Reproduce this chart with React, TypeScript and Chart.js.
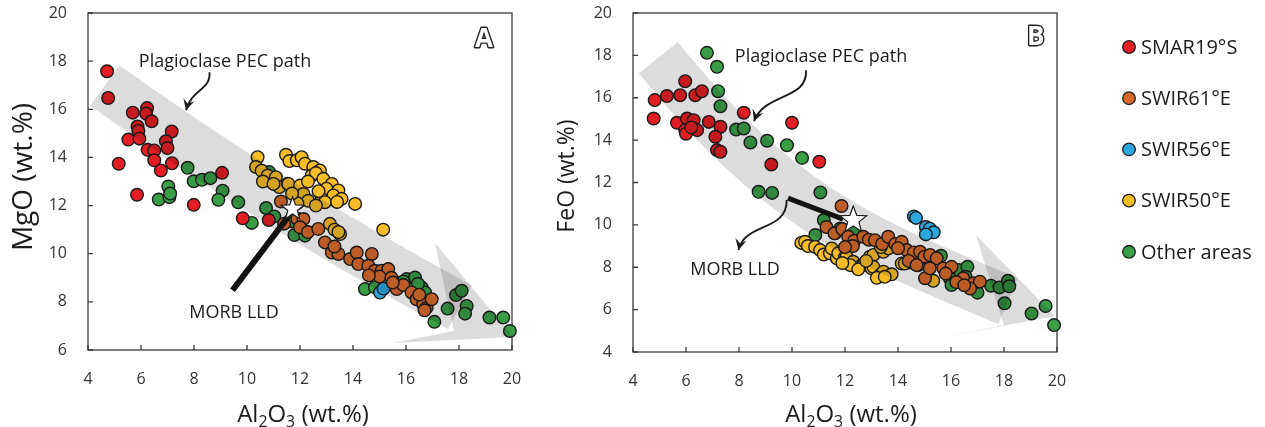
import React, { useEffect, useRef } from "react";
import { Chart, registerables } from "chart.js";

Chart.register(...registerables);

type Pt = [number, number];

const FONT = '"Open Sans", "DejaVu Sans", sans-serif';

// ---------------- data ----------------
const SERIES_NAMES = ["SMAR19°S", "SWIR61°E", "SWIR56°E", "SWIR50°E", "Other areas"];
const SERIES_COLORS = ["#E31E25", "#DA6A2C", "#2DA7DF", "#F6BD27", "#3A9E47"];

const X_MIN = 4;
const X_MAX = 20;
const TICK_STEP = 2;
const A_Y_MIN = 6;
const B_Y_MIN = 4;
const Y_MAX = 20;

// Panel A : MgO vs Al2O3
const A_SMAR19S: Pt[] = [
  [4.72, 17.58], [4.76, 16.47], [5.69, 15.86], [6.23, 16.05], [6.19, 15.82], [6.4, 15.5],
  [5.87, 15.29], [5.9, 15.1], [5.52, 14.74], [5.94, 14.78], [7.16, 15.08], [6.94, 14.67],
  [7.0, 14.39], [6.25, 14.32], [6.5, 14.29], [6.5, 13.88], [6.75, 13.46], [7.17, 13.76],
  [5.16, 13.74], [9.06, 13.36], [5.85, 12.45], [7.99, 12.03], [9.84, 11.47], [10.82, 11.4],
];
const A_SWIR61E: Pt[] = [
  [11.28, 12.17], [11.4, 11.25], [11.9, 11.45], [12.13, 11.44], [12.0, 11.1], [12.3, 10.9],
  [12.69, 11.03], [12.94, 10.47], [13.2, 10.05], [13.45, 9.99], [13.3, 10.3], [13.89, 9.78],
  [14.14, 10.05], [14.2, 9.57], [14.71, 9.99], [14.58, 9.5], [14.83, 9.29], [15.08, 9.29],
  [15.33, 9.36], [15.0, 9.05], [15.45, 9.0], [15.65, 8.53], [15.9, 8.7], [16.21, 8.39],
  [16.4, 8.11], [16.65, 7.9], [16.78, 7.76], [16.97, 8.11], [16.5, 8.3], [16.7, 7.65],
  [15.5, 8.8], [14.6, 9.1],
];
const A_SWIR56E: Pt[] = [[15.27, 8.74], [15.02, 8.39], [15.15, 8.55]];
const A_SWIR50E: Pt[] = [
  [10.4, 14.01], [10.34, 13.6], [10.55, 13.45], [10.78, 13.25], [10.6, 13.0], [11.09, 13.18],
  [11.22, 12.77], [11.54, 12.91], [11.47, 14.11], [11.6, 13.85], [11.88, 13.88], [12.06, 14.01],
  [12.19, 13.74], [12.5, 13.6], [12.75, 13.46], [12.44, 13.25], [12.6, 13.35], [12.88, 13.11],
  [13.2, 12.9], [13.0, 12.7], [13.45, 12.63], [13.26, 12.42], [13.57, 12.28], [14.08, 12.07],
  [12.82, 12.28], [12.94, 12.14], [11.56, 12.9], [12.0, 12.83], [12.13, 12.48], [12.31, 12.2],
  [11.9, 12.1], [12.6, 12.0], [13.4, 12.15], [12.3, 13.0], [11.7, 12.5], [15.14, 11.0],
  [13.13, 11.24], [13.51, 10.82], [13.3, 11.0], [13.45, 10.9], [11.0, 12.9], [12.7, 12.6],
];
const A_OTHER: Pt[] = [
  [7.76, 13.57], [7.99, 13.01], [8.3, 13.07], [8.62, 13.14], [7.03, 12.79], [6.67, 12.25],
  [7.07, 12.35], [7.1, 12.5], [9.08, 12.62], [8.92, 12.24], [9.67, 12.14], [10.18, 11.28],
  [10.72, 11.9], [11.03, 11.55], [10.84, 13.39], [11.79, 10.78], [12.19, 10.75], [11.65, 11.35],
  [14.45, 8.53], [14.83, 8.6], [15.65, 8.8], [16.03, 8.95], [16.34, 9.01], [16.59, 8.6],
  [16.72, 8.39], [17.07, 7.17], [17.57, 7.72], [17.89, 8.28], [18.1, 8.46], [18.29, 7.83],
  [18.23, 7.51], [19.15, 7.35], [19.67, 7.35], [19.92, 6.79], [15.9, 8.85], [16.45, 8.75],
];

// Panel B : FeO vs Al2O3
const B_SMAR19S: Pt[] = [
  [4.82, 15.89], [4.78, 15.02], [5.28, 16.08], [5.78, 16.12], [5.97, 16.78], [6.35, 16.12],
  [6.6, 16.31], [5.66, 14.82], [6.04, 15.02], [5.97, 14.47], [6.0, 14.3], [6.29, 14.94],
  [6.42, 14.47], [6.2, 14.6], [6.86, 14.86], [7.3, 14.63], [7.11, 14.16], [7.17, 13.53],
  [7.3, 13.45], [8.18, 15.29], [10.0, 14.82], [9.22, 12.85], [11.03, 12.98],
];
const B_SWIR61E: Pt[] = [
  [11.87, 10.89], [11.3, 9.9], [11.6, 9.6], [11.9, 9.8], [12.12, 9.44], [12.35, 9.25],
  [12.69, 9.44], [12.9, 9.3], [13.13, 9.28], [13.4, 9.1], [13.63, 9.44], [13.9, 9.1],
  [14.14, 9.2], [14.33, 8.81], [14.0, 8.9], [14.6, 8.7], [14.83, 8.73], [15.0, 8.5],
  [15.21, 8.58], [15.46, 8.42], [15.71, 7.95], [15.02, 7.48], [15.2, 7.95], [16.02, 8.02],
  [15.8, 7.7], [16.46, 7.48], [16.2, 7.3], [16.84, 7.24], [17.09, 7.32], [16.72, 7.0],
  [16.5, 7.15], [14.4, 8.3], [14.7, 8.1], [12.3, 9.0], [12.0, 8.95],
];
const B_SWIR56E: Pt[] = [
  [14.6, 10.4], [14.68, 10.33], [15.05, 9.9], [15.2, 9.82], [15.35, 9.65], [15.05, 9.55],
];
const B_SWIR50E: Pt[] = [
  [10.35, 9.15], [10.49, 9.2], [10.6, 9.0], [10.87, 8.96], [11.06, 8.81], [11.2, 8.6],
  [11.43, 8.66], [11.5, 8.89], [11.69, 8.42], [11.75, 8.66], [12.0, 8.47], [12.06, 8.5],
  [12.31, 8.26], [12.2, 8.1], [12.63, 8.1], [12.69, 8.1], [12.94, 8.5], [13.07, 8.58],
  [13.0, 7.95], [13.07, 8.02], [13.32, 7.63], [13.45, 7.79], [13.45, 8.73], [13.64, 8.89],
  [13.76, 7.67], [13.2, 7.5], [12.5, 7.9], [12.8, 8.3], [14.14, 8.18], [14.26, 8.18],
  [15.33, 7.36], [13.5, 7.55], [11.9, 8.2], [13.35, 8.95],
];
const B_OTHER: Pt[] = [
  [6.79, 18.12], [7.17, 17.46], [7.21, 16.31], [7.3, 15.6], [7.89, 14.5], [8.18, 14.55],
  [8.43, 13.89], [9.06, 13.97], [9.81, 13.76], [10.38, 13.16], [8.74, 11.56], [9.25, 11.51],
  [11.07, 11.53], [11.2, 10.23], [11.82, 9.83], [11.63, 9.6], [10.88, 9.52], [12.31, 9.67],
  [14.45, 8.23], [14.77, 8.1], [15.62, 8.54], [16.3, 7.87], [16.62, 8.02], [16.55, 7.55],
  [15.95, 7.48], [16.02, 7.16], [17.0, 6.8], [17.51, 7.13], [17.83, 7.05], [18.15, 7.36],
  [18.2, 7.1], [18.02, 6.3], [19.04, 5.82], [19.57, 6.17], [19.89, 5.27], [16.34, 7.32],
];

// annotation geometry (data coordinates)
const A_BAND: Pt[] = [[4.634, 16.99], [11.057, 11.917], [18.03, 7.78]];
const A_HEAD: Pt[] = [[17.09, 10.46], [20.04, 6.54], [15.51, 6.29], [17.81, 6.79]];
const A_PEC_ARROW: Pt[] = [[8.585, 17.54], [8.64, 16.79], [7.925, 16.875], [7.7, 15.96]];
const A_LLD_LINE: Pt[] = [[9.453, 8.48], [11.585, 11.58]];
const A_STAR: Pt = [11.72, 11.86];
const A_PEC_TEXT: Pt = [9.17, 17.96];
const A_LLD_TEXT: Pt = [9.51, 7.54];
const A_LETTER: Pt = [18.94, 18.875];

const B_BAND: Pt[] = [[4.958, 17.892], [9.698, 10.542], [12.932, 9.142], [18.151, 6.406]];
const B_HEAD: Pt[] = [[16.94, 9.52], [19.92, 5.7], [15.77, 4.71], [18.0, 5.27]];
const B_PEC_ARROW: Pt[] = [[10.528, 17.3], [10.604, 15.887], [8.981, 16.264], [8.566, 14.896]];
const B_LLD_ARROW: Pt[] = [[9.8, 11.17], [9.811, 9.66], [8.226, 10.132], [7.981, 8.811]];
const B_LLD_LINE: Pt[] = [[9.849, 11.264], [11.925, 10.274]];
const B_STAR: Pt = [12.313, 10.226];
const B_PEC_TEXT: Pt = [11.094, 17.915];
const B_LLD_TEXT: Pt = [7.849, 7.868];
const B_LETTER: Pt = [19.2, 18.86];

// ---------------- panel specs ----------------
interface PanelSpec {
  width: number;
  area: { left: number; right: number; top: number; bottom: number };
  yMin: number;
  yTitle: string;
  yTitleSize: number;
  yTitleX: number;
  yTitleY: number;
  xTitleDx: number;
  series: Pt[][];
  band: Pt[];
  head: Pt[];
  arrows: Pt[][];
  lldLine: Pt[];
  lldWidth: number;
  star: Pt;
  starR: number;
  pecText: Pt;
  lldText: Pt;
  letter: string;
  letterPos: Pt;
  legend: boolean;
}

const PANEL_A: PanelSpec = {
  width: 540,
  area: { left: 88, right: 512, top: 13, bottom: 350 },
  yMin: A_Y_MIN,
  yTitle: "MgO (wt.%)",
  yTitleSize: 28,
  yTitleX: 24,
  yTitleY: 177,
  xTitleDx: 3,
  series: [A_SMAR19S, A_SWIR61E, A_SWIR56E, A_SWIR50E, A_OTHER],
  band: A_BAND,
  head: A_HEAD,
  arrows: [A_PEC_ARROW],
  lldLine: A_LLD_LINE,
  lldWidth: 6,
  star: A_STAR,
  starR: 12,
  pecText: A_PEC_TEXT,
  lldText: A_LLD_TEXT,
  letter: "A",
  letterPos: A_LETTER,
  legend: false,
};

const PANEL_B: PanelSpec = {
  width: 725,
  area: { left: 93, right: 517, top: 13, bottom: 352 },
  yMin: B_Y_MIN,
  yTitle: "FeO (wt.%)",
  yTitleSize: 23,
  yTitleX: 27,
  yTitleY: 176,
  xTitleDx: 6,
  series: [B_SMAR19S, B_SWIR61E, B_SWIR56E, B_SWIR50E, B_OTHER],
  band: B_BAND,
  head: B_HEAD,
  arrows: [B_PEC_ARROW, B_LLD_ARROW],
  lldLine: B_LLD_LINE,
  lldWidth: 5,
  star: B_STAR,
  starR: 14,
  pecText: B_PEC_TEXT,
  lldText: B_LLD_TEXT,
  letter: "B",
  letterPos: B_LETTER,
  legend: true,
};

const BAND_COLOR = "#dcdcdc";
const INK = "#1c1c1c";
const AXIS_COLOR = "#3a3a3a";
const CANVAS_H = 427;

// ---------------- drawing helpers ----------------
function arrowHead(ctx: CanvasRenderingContext2D, tip: number[], from: number[], size: number) {
  const ang = Math.atan2(tip[1] - from[1], tip[0] - from[0]);
  ctx.save();
  ctx.translate(tip[0], tip[1]);
  ctx.rotate(ang);
  ctx.beginPath();
  ctx.moveTo(0, 0);
  ctx.lineTo(-size, -size * 0.52);
  ctx.lineTo(-size * 0.62, 0);
  ctx.lineTo(-size, size * 0.52);
  ctx.closePath();
  ctx.fill();
  ctx.restore();
}

function star(ctx: CanvasRenderingContext2D, cx: number, cy: number, R: number) {
  const r = R * 0.42;
  ctx.beginPath();
  for (let i = 0; i < 10; i++) {
    const rad = i % 2 === 0 ? R : r;
    const a = -Math.PI / 2 + (i * Math.PI) / 5;
    const x = cx + rad * Math.cos(a);
    const y = cy + rad * Math.sin(a);
    if (i === 0) ctx.moveTo(x, y);
    else ctx.lineTo(x, y);
  }
  ctx.closePath();
  ctx.fillStyle = "#ffffff";
  ctx.fill();
  ctx.lineWidth = 1.2;
  ctx.strokeStyle = INK;
  ctx.stroke();
}

function subTitle(ctx: CanvasRenderingContext2D, cx: number, baseline: number, size: number) {
  const parts: [string, boolean][] = [["Al", false], ["2", true], ["O", false], ["3", true], [" (wt.%)", false]];
  const sub = size * 0.66;
  const widths = parts.map(([t, s]) => {
    ctx.font = `${s ? sub : size}px ${FONT}`;
    return ctx.measureText(t).width;
  });
  const total = widths.reduce((a, b) => a + b, 0);
  let x = cx - total / 2;
  ctx.textAlign = "left";
  ctx.textBaseline = "alphabetic";
  ctx.fillStyle = INK;
  parts.forEach(([t, s], i) => {
    ctx.font = `${s ? sub : size}px ${FONT}`;
    ctx.fillText(t, x, s ? baseline + size * 0.2 : baseline);
    x += widths[i];
  });
}

function makeOverlay(spec: PanelSpec) {
  return {
    id: "overlay",
    beforeDraw(chart: any) {
      const ctx = chart.ctx;
      ctx.save();
      ctx.fillStyle = "#ffffff";
      ctx.fillRect(0, 0, chart.width, chart.height);
      ctx.restore();
    },
    beforeDatasetsDraw(chart: any) {
      const ctx: CanvasRenderingContext2D = chart.ctx;
      const { left, right, top, bottom } = chart.chartArea;
      const xs = chart.scales.x;
      const ys = chart.scales.y;
      ctx.save();
      ctx.strokeStyle = AXIS_COLOR;
      ctx.lineWidth = 1.3;
      ctx.strokeRect(left, top, right - left, bottom - top);
      ctx.beginPath();
      xs.ticks.forEach((t: any) => {
        const X = xs.getPixelForValue(t.value);
        ctx.moveTo(X, bottom);
        ctx.lineTo(X, bottom - 5);
      });
      ys.ticks.forEach((t: any) => {
        const Y = ys.getPixelForValue(t.value);
        ctx.moveTo(left, Y);
        ctx.lineTo(left + 5, Y);
      });
      ctx.stroke();
      ctx.restore();
    },
    afterDatasetsDraw(chart: any) {
      const ctx: CanvasRenderingContext2D = chart.ctx;
      const xs = chart.scales.x;
      const ys = chart.scales.y;
      const P = (p: Pt) => [xs.getPixelForValue(p[0]), ys.getPixelForValue(p[1])];
      const { left, right, top, bottom } = chart.chartArea;

      // translucent PEC path band (multiplied over the points)
      ctx.save();
      ctx.beginPath();
      ctx.rect(left, top, right - left, bottom - top);
      ctx.clip();
      ctx.globalCompositeOperation = "multiply";
      const b = spec.band.map(P);
      ctx.beginPath();
      ctx.moveTo(b[0][0], b[0][1]);
      if (b.length === 3) ctx.quadraticCurveTo(b[1][0], b[1][1], b[2][0], b[2][1]);
      else ctx.bezierCurveTo(b[1][0], b[1][1], b[2][0], b[2][1], b[3][0], b[3][1]);
      ctx.lineWidth = 50;
      ctx.lineCap = "butt";
      ctx.strokeStyle = BAND_COLOR;
      ctx.stroke();
      const h = spec.head.map(P);
      ctx.beginPath();
      h.forEach((p, i) => (i === 0 ? ctx.moveTo(p[0], p[1]) : ctx.lineTo(p[0], p[1])));
      ctx.closePath();
      ctx.fillStyle = BAND_COLOR;
      ctx.fill();
      ctx.restore();

      ctx.save();
      // MORB LLD thick line
      const l = spec.lldLine.map(P);
      ctx.strokeStyle = "#121212";
      ctx.lineWidth = spec.lldWidth;
      ctx.lineCap = "butt";
      ctx.beginPath();
      ctx.moveTo(l[0][0], l[0][1]);
      ctx.lineTo(l[1][0], l[1][1]);
      ctx.stroke();

      // curved arrows
      spec.arrows.forEach((a) => {
        const q = a.map(P);
        ctx.beginPath();
        ctx.moveTo(q[0][0], q[0][1]);
        ctx.bezierCurveTo(q[1][0], q[1][1], q[2][0], q[2][1], q[3][0], q[3][1]);
        ctx.lineWidth = 1.9;
        ctx.strokeStyle = INK;
        ctx.stroke();
        ctx.fillStyle = INK;
        arrowHead(ctx, q[3], q[2], 11);
      });

      // star
      const s = P(spec.star);
      star(ctx, s[0], s[1], spec.starR);

      // annotation texts
      ctx.fillStyle = INK;
      ctx.font = `18px ${FONT}`;
      ctx.textAlign = "center";
      ctx.textBaseline = "middle";
      const pt = P(spec.pecText);
      ctx.fillText("Plagioclase PEC path", pt[0], pt[1]);
      const lt = P(spec.lldText);
      ctx.fillText("MORB LLD", lt[0], lt[1]);

      // panel letter (outlined)
      const lp = P(spec.letterPos);
      ctx.font = `bold 26px ${FONT}`;
      ctx.lineWidth = 2.8;
      ctx.lineJoin = "round";
      ctx.strokeStyle = "#222";
      ctx.strokeText(spec.letter, lp[0], lp[1]);
      ctx.fillStyle = "#ffffff";
      ctx.fillText(spec.letter, lp[0], lp[1]);
      ctx.restore();
    },
    afterDraw(chart: any) {
      const ctx: CanvasRenderingContext2D = chart.ctx;
      const { left, right } = chart.chartArea;
      ctx.save();
      subTitle(ctx, (left + right) / 2 + spec.xTitleDx, 422, 24);
      ctx.translate(spec.yTitleX, spec.yTitleY);
      ctx.rotate(-Math.PI / 2);
      ctx.font = `${spec.yTitleSize}px ${FONT}`;
      ctx.textAlign = "center";
      ctx.textBaseline = "middle";
      ctx.fillStyle = INK;
      ctx.fillText(spec.yTitle, 0, 0);
      ctx.restore();

      if (spec.legend) {
        ctx.save();
        const lx = right + 72;
        chart.data.datasets.forEach((ds: any, i: number) => {
          const cy = 47 + i * 51.2;
          ctx.beginPath();
          ctx.arc(lx, cy, 6.3, 0, Math.PI * 2);
          ctx.fillStyle = ds.pointBackgroundColor;
          ctx.fill();
          ctx.lineWidth = 1.3;
          ctx.strokeStyle = INK;
          ctx.stroke();
          ctx.fillStyle = INK;
          ctx.font = `20px ${FONT}`;
          ctx.textAlign = "left";
          ctx.textBaseline = "middle";
          ctx.fillText(ds.label, lx + 12, cy + 1);
        });
        ctx.restore();
      }
    },
  };
}

function makeChart(canvas: HTMLCanvasElement, spec: PanelSpec) {
  const datasets = SERIES_NAMES.map((name, i) => ({
    label: name,
    data: spec.series[i].map(([x, y]) => ({ x, y })),
    pointBackgroundColor: SERIES_COLORS[i],
    backgroundColor: SERIES_COLORS[i],
    pointBorderColor: "#1b1b1b",
    pointBorderWidth: 1.4,
    pointRadius: 6.3,
    pointHoverRadius: 6.3,
    showLine: false,
    clip: false as any,
  }));
  const a = spec.area;
  const tickFont = { family: FONT, size: 16 };
  return new Chart(canvas, {
    type: "scatter",
    data: { datasets },
    options: {
      animation: false,
      responsive: false,
      maintainAspectRatio: false,
      devicePixelRatio: 1,
      events: [],
      layout: {
        autoPadding: false,
        padding: { left: 0, top: a.top, right: spec.width - a.right, bottom: 0 },
      },
      plugins: { legend: { display: false }, tooltip: { enabled: false } },
      scales: {
        x: {
          type: "linear",
          min: X_MIN,
          max: X_MAX,
          ticks: { stepSize: TICK_STEP, font: tickFont, color: "#333", padding: 20 },
          grid: { display: false, drawTicks: false },
          border: { display: false },
          afterFit: (s: any) => {
            s.height = CANVAS_H - a.bottom;
            s.paddingLeft = 0;
            s.paddingRight = 0;
          },
        },
        y: {
          type: "linear",
          min: spec.yMin,
          max: Y_MAX,
          ticks: { stepSize: TICK_STEP, font: tickFont, color: "#333", padding: 21 },
          grid: { display: false, drawTicks: false },
          border: { display: false },
          afterFit: (s: any) => {
            s.width = a.left;
            s.paddingTop = 0;
            s.paddingBottom = 0;
          },
        },
      },
    } as any,
    plugins: [makeOverlay(spec) as any],
  });
}

export default function App() {
  const refA = useRef<HTMLCanvasElement>(null);
  const refB = useRef<HTMLCanvasElement>(null);
  useEffect(() => {
    const ca = makeChart(refA.current!, PANEL_A);
    const cb = makeChart(refB.current!, PANEL_B);
    return () => {
      ca.destroy();
      cb.destroy();
    };
  }, []);
  return (
    <div style={{ position: "absolute", left: 0, top: 0, width: 1265, height: CANVAS_H, background: "#fff" }}>
      <canvas
        ref={refA}
        width={PANEL_A.width}
        height={CANVAS_H}
        style={{ position: "absolute", left: 0, top: 0, width: PANEL_A.width, height: CANVAS_H }}
      />
      <canvas
        ref={refB}
        width={PANEL_B.width}
        height={CANVAS_H}
        style={{ position: "absolute", left: PANEL_A.width, top: 0, width: PANEL_B.width, height: CANVAS_H }}
      />
    </div>
  );
}
